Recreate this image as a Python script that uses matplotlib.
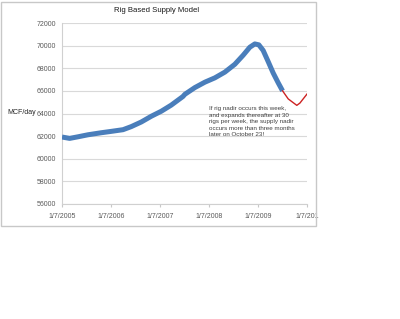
import matplotlib
matplotlib.use("Agg")
import matplotlib.pyplot as plt
from matplotlib.patches import Rectangle
import numpy as np

# ---- data ----
blue_dates = ["2005-01-07", "2005-03-05", "2005-05-06", "2005-07-20", "2005-10-27",
              "2006-01-09", "2006-04-07", "2006-06-07", "2006-08-21", "2006-11-04",
              "2007-01-17", "2007-04-01", "2007-06-27", "2007-07-12", "2007-09-24",
              "2007-12-08", "2008-02-20", "2008-05-05", "2008-07-18", "2008-09-18",
              "2008-11-07", "2008-12-14", "2009-01-13", "2009-02-14", "2009-03-24",
              "2009-04-30", "2009-06-06", "2009-07-09"]
blue_values = [61920, 61800, 61940, 62120, 62300,
               62420, 62570, 62840, 63250, 63760,
               64200, 64740, 65500, 65700, 66290,
               66770, 67150, 67660, 68350, 69150,
               69860, 70150, 70070, 69580, 68580,
               67580, 66720, 66000]
red_dates = ["2009-07-09", "2009-08-20", "2009-10-23", "2009-11-15", "2010-01-07"]
red_values = [66000, 65290, 64720, 64920, 65720]
tick_dates = ["2005-01-07", "2006-01-07", "2007-01-07", "2008-01-07", "2009-01-07", "2010-01-07"]
tick_labels = ["1/7/2005", "1/7/2006", "1/7/2007", "1/7/2008", "1/7/2009", "1/7/201"]
y_ticks = [56000, 58000, 60000, 62000, 64000, 66000, 68000, 70000, 72000]
title = "Rig Based Supply Model"
ylabel = "MCF/day"
note = ("If rig nadir occurs this week,\nand expands thereafter at 30\n"
        "rigs per week, the supply nadir\noccurs more than three months\n"
        "later on October 23!")

plt.rcParams['font.family'] = ['Liberation Sans', 'DejaVu Sans']

fig = plt.figure(figsize=(4.0, 3.19), dpi=100)
fig.patches.append(Rectangle((0.002, 1 - 226 / 319), 315 / 400, 225 / 319 - 0.002,
                             transform=fig.transFigure, fill=False,
                             edgecolor="#c8c8c8", linewidth=1.0))
ax = fig.add_axes([62 / 400, 1 - 204 / 319, 245 / 400, 181 / 319])

bd = np.array(blue_dates, dtype="datetime64[D]")
rd = np.array(red_dates, dtype="datetime64[D]")
td = np.array(tick_dates, dtype="datetime64[D]")

ax.plot(bd, blue_values, color="#4A7EBB", linewidth=3.6, solid_capstyle="butt",
        solid_joinstyle="round", zorder=3)
ax.plot(rd, red_values, color="#CC2222", linewidth=1.0, solid_joinstyle="round", zorder=3)

ax.set_xlim(td[0], td[-1])
ax.set_ylim(56000, 72000)
ax.set_yticks(y_ticks)
ax.set_yticklabels([str(v) for v in y_ticks])
ax.set_xticks(td)
ax.set_xticklabels(tick_labels)
ax.tick_params(axis="both", labelsize=5, colors="#595959", length=0, pad=4)
ax.tick_params(axis="x", length=2.5, direction="out", color="#c8c8c8", width=0.8, pad=4)
ax.grid(axis="y", color="#d9d9d9", linewidth=0.8)
ax.set_axisbelow(True)
for s in ["top", "right"]:
    ax.spines[s].set_visible(False)
for s in ["left", "bottom"]:
    ax.spines[s].set_color("#d0d0d0")
    ax.spines[s].set_linewidth(0.8)

fig.text(157 / 400, 1 - 10 / 319, title, ha="center", va="center",
         fontsize=5.6, color="#1a1a1a")
fig.text(22 / 400, 1 - 113 / 319, ylabel, ha="center", va="center",
         fontsize=5, color="#262626")
fig.text(209 / 400, 1 - 106 / 319, note, ha="left", va="top",
         fontsize=4.5, color="#404040", linespacing=1.4)

fig.savefig("out.png", dpi=100)
